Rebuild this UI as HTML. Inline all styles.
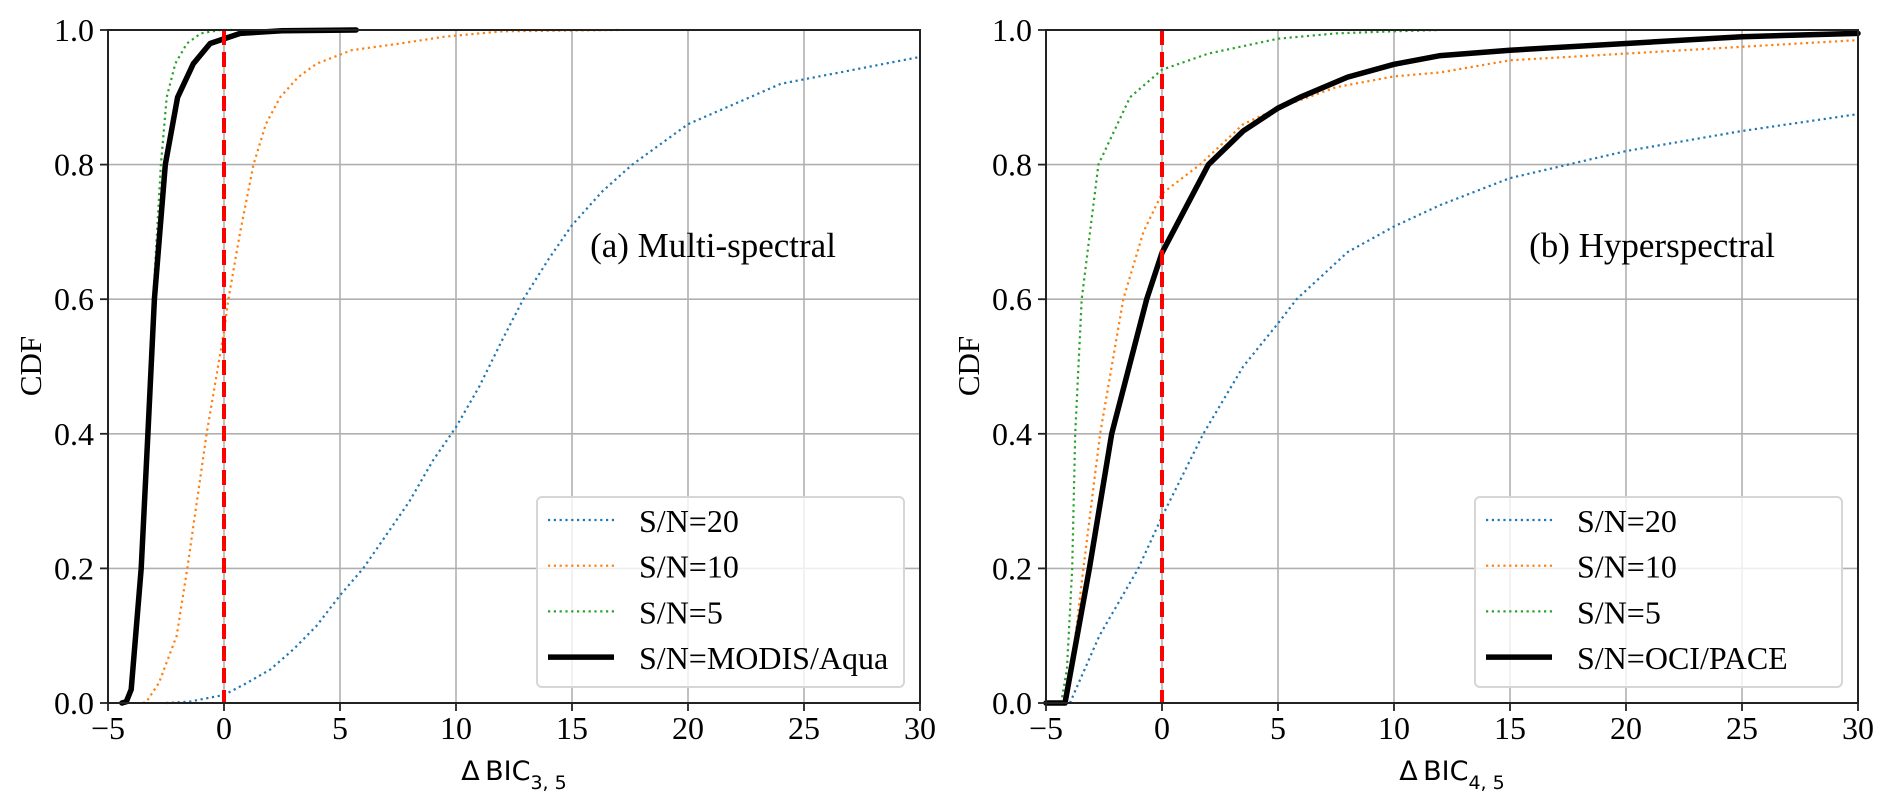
<!DOCTYPE html>
<html><head><meta charset="utf-8"><style>
html,body{margin:0;padding:0;background:#fff;}
svg{display:block;}
text{font-family:"Liberation Serif","DejaVu Serif",serif;fill:#000;}
.sans{font-family:"DejaVu Sans","Liberation Sans",sans-serif;}
</style></head><body>
<svg id="fig" width="1892" height="805" viewBox="0 0 1892 805" xmlns="http://www.w3.org/2000/svg"></svg>
<script>
// ---- data: panel (a) Multi-spectral ----
const aBlueX = [-2.5,-1.5,0,1,2,3,4,5,6,7,8,9,10,11,12,12.9,14,15,16.3,17.6,20,22,24,27,30];
const aBlueY = [0,0.002,0.012,0.03,0.05,0.08,0.115,0.16,0.2,0.25,0.3,0.36,0.41,0.47,0.54,0.6,0.66,0.71,0.76,0.8,0.86,0.89,0.92,0.94,0.96];
const aOrangeX = [-3.5,-3.34,-2.8,-2.04,-1.58,-0.75,0,0.19,0.7,1.27,1.8,2.42,3.2,4.0,5.5,7.6,9.5,12,17];
const aOrangeY = [0,0.002,0.03,0.1,0.2,0.4,0.552,0.6,0.7,0.8,0.86,0.9,0.93,0.95,0.97,0.98,0.99,0.998,1.0];
const aGreenX = [-4.3,-3.92,-3.6,-3.05,-2.72,-2.47,-2.1,-1.6,-1.0,-0.17,0.5];
const aGreenY = [0,0.03,0.2,0.6,0.8,0.9,0.95,0.98,0.995,1.0,1.0];
const aBlackX = [-4.4,-4.21,-4.0,-3.57,-3.28,-3.0,-2.53,-2.0,-1.32,-0.6,0.7,2.5,5.7];
const aBlackY = [0,0.002,0.02,0.2,0.4,0.6,0.8,0.9,0.95,0.98,0.995,0.999,1.0];
// ---- data: panel (b) Hyperspectral ----
const bBlueX = [-3.97,-2.7,-1.02,0,1.78,3.5,5,5.8,8,10,12,15,20,25,30];
const bBlueY = [0,0.1,0.2,0.277,0.4,0.5,0.564,0.6,0.67,0.708,0.74,0.78,0.82,0.85,0.875];
const bOrangeX = [-4.2,-3.8,-3.39,-2.67,-1.67,-0.8,0,1.64,3.5,5,7.5,10,12,15,20,25,30];
const bOrangeY = [0,0.08,0.2,0.4,0.6,0.7,0.757,0.8,0.86,0.884,0.915,0.931,0.937,0.955,0.965,0.975,0.985];
const bGreenX = [-4.35,-4.1,-3.87,-3.74,-3.46,-2.74,-1.38,0,2,5,7.5,10,12];
const bGreenY = [0,0.05,0.2,0.4,0.6,0.8,0.9,0.941,0.965,0.987,0.995,0.998,1.0];
const bBlackX = [-5,-4.18,-3.13,-2.17,-0.66,0,2.0,3.5,5,5.95,8,10,12,15,20,25,30];
const bBlackY = [0,0,0.2,0.4,0.6,0.669,0.8,0.85,0.884,0.9,0.93,0.949,0.962,0.97,0.98,0.99,0.995];
// ---- ticks ----
const xTicks = [-5,0,5,10,15,20,25,30];
const xTickLabels = ["\u22125","0","5","10","15","20","25","30"];
const yTicks = [0,0.2,0.4,0.6,0.8,1.0];
const yTickLabels = ["0.0","0.2","0.4","0.6","0.8","1.0"];
const legendLabelsA = ["S/N=20","S/N=10","S/N=5","S/N=MODIS/Aqua"];
const legendLabelsB = ["S/N=20","S/N=10","S/N=5","S/N=OCI/PACE"];

const NS="http://www.w3.org/2000/svg";
const svg=document.getElementById('fig');
function mk(tag,attrs,parent){const e=document.createElementNS(NS,tag);for(const k in attrs)e.setAttribute(k,attrs[k]);(parent||svg).appendChild(e);return e;}

const styles=[
 {stroke:'#1f77b4',w:2.2,dash:'2.2 3.6'},
 {stroke:'#ff7f0e',w:2.2,dash:'2.2 3.6'},
 {stroke:'#2ca02c',w:2.2,dash:'2.2 3.6'},
 {stroke:'#000',w:5.5,dash:null}
];

function panel(px0,px1,series,legendLabels,title,titleCx,sub,name){
  const py0=30,py1=703;
  const g=mk('g',{});
  
  
  const sx=v=>px0+(v+5)/35*(px1-px0);
  const sy=v=>py1-v*(py1-py0);
  xTicks.forEach(t=>{const l=mk('line',{x1:sx(t),x2:sx(t),y1:py0,y2:py1,stroke:'#b0b0b0','stroke-width':1.6},g);
    });
  yTicks.forEach(t=>{const l=mk('line',{x1:px0,x2:px1,y1:sy(t),y2:sy(t),stroke:'#b0b0b0','stroke-width':1.6},g);
    });
  const names=['series-sn20','series-sn10','series-sn5','series-instrument'];
  series.forEach((s,i)=>{
    let d='';s[0].forEach((x,j)=>{d+=(j?'L':'M')+sx(x).toFixed(1)+' '+sy(s[1][j]).toFixed(1);});
    const p=mk('path',{d:d,fill:'none',stroke:styles[i].stroke,'stroke-width':styles[i].w,'stroke-linejoin':'round','stroke-linecap':styles[i].dash?'butt':'round'},g);
    if(styles[i].dash)p.setAttribute('stroke-dasharray',styles[i].dash);
    
  });
  const r=mk('line',{x1:sx(0),x2:sx(0),y1:py0,y2:py1,stroke:'#ff0000','stroke-width':4,'stroke-dasharray':'15 7'},g);
  
  const f=mk('rect',{x:px0,y:py0,width:px1-px0,height:py1-py0,fill:'none',stroke:'#222','stroke-width':2},g);
  
  xTicks.forEach((t,i)=>{mk('line',{x1:sx(t),x2:sx(t),y1:py1,y2:py1+8,stroke:'#222','stroke-width':1.8},g);
    const tx=mk('text',{x:sx(t),y:739,'font-size':32,'text-anchor':'middle'},g);tx.textContent=xTickLabels[i];
    });
  yTicks.forEach((t,i)=>{mk('line',{x1:px0-8,x2:px0,y1:sy(t),y2:sy(t),stroke:'#222','stroke-width':1.8},g);
    const tx=mk('text',{x:px0-14,y:sy(t)+11,'font-size':32,'text-anchor':'end'},g);tx.textContent=yTickLabels[i];
    });
  const yl=mk('text',{x:0,y:0,'font-size':31,'text-anchor':'middle',transform:`translate(${px0-67},366) rotate(-90)`},g);
  yl.textContent='CDF';
  const xl=mk('text',{x:(px0+px1)/2,y:780,'font-size':27,'text-anchor':'middle','class':'sans'},g);
  
  xl.innerHTML='\u0394\u2009BIC<tspan font-size="19" dy="9">'+sub+'</tspan>';
  const tt=mk('text',{x:titleCx,y:257,'font-size':35,'text-anchor':'middle'},g);
  tt.textContent=title;
  const bx=px1-16-367, by=497;
  const lg=mk('g',{},g);
  mk('rect',{x:bx,y:by,width:367,height:190,rx:5,fill:'#fff','fill-opacity':0.8,stroke:'#d6d6d6','stroke-width':2},lg);
  legendLabels.forEach((lab,i)=>{
    const yy=520+i*45.7;
    const e=mk('g',{},lg);
    const l=mk('line',{x1:bx+11,x2:bx+77,y1:yy,y2:yy,stroke:styles[i].stroke,'stroke-width':styles[i].w},e);
    if(styles[i].dash)l.setAttribute('stroke-dasharray',styles[i].dash);
    const t=mk('text',{x:bx+102,y:yy+12,'font-size':32},e);t.textContent=lab;
  });
}

panel(108,920,[[aBlueX,aBlueY],[aOrangeX,aOrangeY],[aGreenX,aGreenY],[aBlackX,aBlackY]],legendLabelsA,'(a) Multi-spectral',713,'3, 5','panel-a-multispectral');
panel(1046,1858,[[bBlueX,bBlueY],[bOrangeX,bOrangeY],[bGreenX,bGreenY],[bBlackX,bBlackY]],legendLabelsB,'(b) Hyperspectral',1652,'4, 5','panel-b-hyperspectral');
</script>
</body></html>
